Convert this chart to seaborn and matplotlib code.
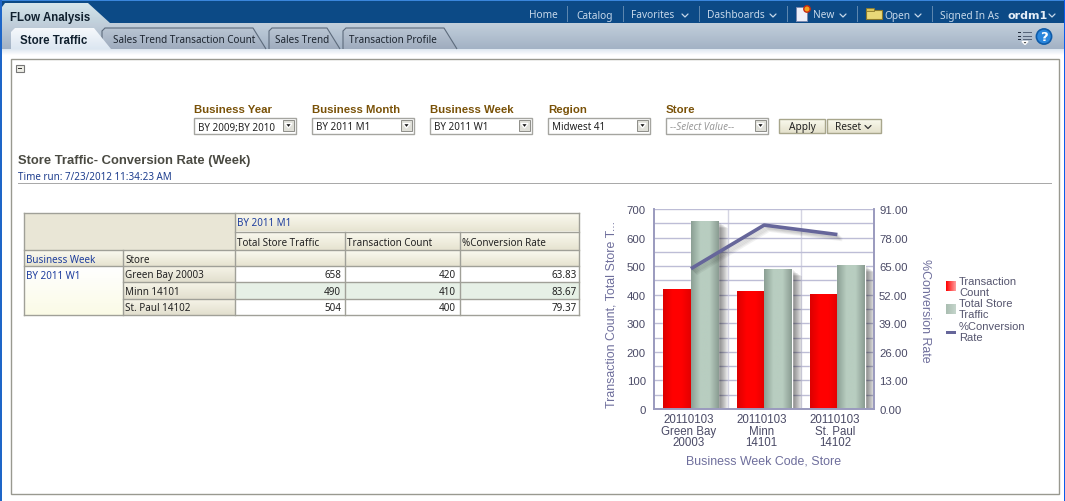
import numpy as np
import pandas as pd
import matplotlib
matplotlib.use("Agg")
import matplotlib.pyplot as plt
import matplotlib.patheffects as pe
from matplotlib.colors import LinearSegmentedColormap as LSC
from matplotlib.patches import Rectangle, Polygon, Circle
from matplotlib.transforms import ScaledTranslation
import seaborn as sns

# ---------- data ----------
weeks = ["20110103", "20110103", "20110103"]
stores = ["Green Bay", "Minn", "St. Paul"]
store_codes = ["20003", "14101", "14102"]
table_stores = ["Green Bay 20003", "Minn 14101", "St. Paul 14102"]
traffic = [658, 490, 504]
transactions = [420, 410, 400]
conversion = [63.83, 83.67, 79.37]
left_ticks = [0, 100, 200, 300, 400, 500, 600, 700]
left_minor = [50, 150, 250, 350, 450, 550, 650]
right_ticks = [0, 13, 26, 39, 52, 65, 78, 91]
nav_items = ["Home", "Catalog", "Favorites", "Dashboards", "New", "Open", "Signed In As"]
tabs = ["Store Traffic", "Sales Trend Transaction Count", "Sales Trend", "Transaction Profile"]
filter_labels = ["Business Year", "Business Month", "Business Week", "Region", "Store"]
filter_values = ["BY 2009;BY 2010", "BY 2011 M1", "BY 2011 W1", "Midwest 41", "--Select Value--"]
table_cols = ["Total Store Traffic", "Transaction Count", "%Conversion Rate"]

sns.set_theme(style="white")
UI = "Noto Sans"
BOLD = "Liberation Sans"
CH = "Liberation Sans"
plt.rcParams["font.family"] = [UI, "DejaVu Sans"]

W, H = 1065, 502
fig = plt.figure(figsize=(W / 100, H / 100), dpi=100, facecolor="white")
ui = fig.add_axes([0, 0, 1, 1], zorder=0)
ui.set_axis_off()


def vgrad(x0, y0, x1, y1, top, bottom, clip=None, z=3):
    cm = LSC.from_list("g", [top, bottom])
    im = ui.imshow(np.linspace(0, 1, 64)[:, None], cmap=cm, extent=(x0, x1, y1, y0),
                   aspect="auto", zorder=z, interpolation="bilinear")
    if clip is not None:
        poly = Polygon(clip, closed=True, transform=ui.transData)
        im.set_clip_path(poly)
    return im


def hgrad(x0, y0, x1, y1, colors, z=3):
    cm = LSC.from_list("g", colors)
    return ui.imshow(np.linspace(0, 1, 64)[None, :], cmap=cm, extent=(x0, x1, y1, y0),
                     aspect="auto", zorder=z, interpolation="bilinear")


def rect(x0, y0, x1, y1, fc="none", ec="none", lw=1, z=2):
    ui.add_patch(Rectangle((x0, y0), x1 - x0, y1 - y0, fc=fc, ec=ec, lw=lw, zorder=z))


def txt(x, y, s, size=7.2, color="#222222", weight="normal", ha="left", style="normal", z=6, family=None):
    if weight == "bold" and family is None:
        family = BOLD
    ui.text(x, y + 1, s, fontsize=size, color=color, weight=weight, ha=ha, va="center", style=style,
            zorder=z, family=family or UI)


def chevron(x, y, color="#C6D8EA", z=6):
    ui.plot([x - 3, x, x + 3], [y - 1.5, y + 1.5, y - 1.5], color=color, lw=0.9, zorder=z)


# ---------- top chrome ----------
rect(0, 0, W, 24, fc="#0C4A86", z=1)
rect(0, 0, W, 1.5, fc="#3A86DC", z=2)
vgrad(0, 24, W, 50, "#C2CFDB", "#A3B2C5", z=1)
vgrad(0, 50, W, 56, "#DDE6F0", "#FFFFFF", z=1)
rect(0, 0, 1.5, H, fc="#1E66C8", z=3)
rect(1063.5, 0, W, H, fc="#0B5BEA", z=3)

flow = [(2, 24), (2, 8), (5, 4), (88, 4), (110, 24)]
vgrad(2, 4, 110, 24, "#D6E6EC", "#C0D0DB", clip=flow, z=2)
txt(10, 16.5, "FLow Analysis", size=8.3, weight="bold", color="#10202E")

for (x0, x1), label, tx in zip([(101, 267), (268, 341), (342, 458)], tabs[1:], [113, 275, 349]):
    shape = [(x0 + 1, 50), (x0 + 1, 32), (x0 + 4, 29), (x1 - 14, 29), (x1 - 1, 50)]
    vgrad(x0, 29, x1, 50, "#B9C5D3", "#9FACBE", clip=shape, z=2)
    ui.add_patch(Polygon(shape, closed=False, fc="none", ec="#5D6B7C", lw=0.8, zorder=3))
    txt(tx, 39.5, label, size=7.15, color="#1D2530")
st = [(11, 50), (11, 33), (15, 29), (94, 29), (111, 50)]
vgrad(11, 29, 111, 50, "#F6F9FC", "#DCE6F1", clip=st, z=4)
txt(20, 39.5, tabs[0], size=8.3, weight="bold", color="#10202E")

nav_x = [529, 576, 631, 707, 813, 884, 940]
for x, label in zip(nav_x, nav_items):
    txt(x, 15, label, size=7.3, color="#C6D8EA")
txt(1008, 15, "ordm1", size=8.0, weight="bold", color="#E4EEF8", family="DejaVu Sans")
for x in [685, 773, 843, 918, 1052]:
    chevron(x, 16.5)
for x in [567, 623, 699, 787, 857, 932]:
    rect(x, 7, x + 0.8, 23, fc="#5C86AE", z=3)
# new-page and folder icons
rect(796, 8, 807, 22, fc="#EDEFF8", ec="#7B8AB0", lw=0.7, z=3)
ui.add_patch(Circle((807, 10), 3.2, fc="#F3A21E", ec="#C82A10", lw=1, zorder=4))
rect(866, 11, 882, 20, fc="#E9D878", ec="#8C7A2C", lw=0.8, z=3)
rect(866, 9, 874, 12, fc="#D8C45C", ec="#8C7A2C", lw=0.6, z=3)
# toolbar icons
for y in [33, 36.5, 40]:
    rect(1018, y, 1021, y + 1, fc="#25303F", z=3)
    rect(1023, y, 1032, y + 1, fc="#56657A", z=3)
ui.add_patch(Polygon([(1022, 42.5), (1028, 42.5), (1025, 45.5)], fc="#111111", zorder=3))
ui.add_patch(Circle((1044, 37.5), 7.6, fc="#2A86DC", ec="#0E5BA8", lw=1.2, zorder=3))
txt(1044, 36.5, "?", size=9.5, weight="bold", color="white", ha="center", family="DejaVu Sans")

# ---------- content panel ----------
rect(11, 59.5, 1058.5, 495, fc="white", ec="#999990", lw=1, z=2)
rect(15.5, 65.5, 23.5, 73, fc="#EDEDE6", ec="#777777", lw=0.8, z=3)
rect(17.5, 69, 21.5, 70, fc="#333333", z=4)

# ---------- filters ----------
fx = [194, 312, 430, 548, 666]
for x, label, value in zip(fx, filter_labels, filter_values):
    txt(x, 109, label, weight="bold", size=8.2, color="#7A5208")
    rect(x, 119, x + 102, 135, fc="white", ec="#A5A5A0", z=3)
    placeholder = value.startswith("--")
    txt(x + 4, 127, value, size=7.1, color="#999999" if placeholder else "#222222",
        style="italic" if placeholder else "normal")
    rect(x + 89, 121, x + 100, 132, fc="#DFDFD8", ec="#8E8E88", lw=0.7, z=4)
    ui.add_patch(Polygon([(x + 91, 124.5), (x + 98, 124.5), (x + 94.5, 129)], fc="#111111", zorder=5))
for x0, x1, label, tx in [(779, 825, "Apply", 802), (827, 881, "Reset", 848)]:
    vgrad(x0, 120, x1, 134, "#FAFAEE", "#E4E1CC")
    rect(x0, 120, x1, 134, ec="#A8A68C", z=4)
    txt(tx, 126.5, label, ha="center", size=7.3)
chevron(868, 128, color="#333333")

txt(18, 160.5, "Store Traffic- Conversion Rate (Week)", size=9.4, weight="bold", color="#4A4A42")
txt(18, 176.5, "Time run: 7/23/2012 11:34:23 AM", size=7.1, color="#1E3E8E")
rect(18, 184, 1052, 184.8, fc="#A9A9A9", z=3)

# ---------- pivot table ----------
cx = [24, 123, 235, 345, 460, 579]
ry = [214, 233, 251, 267, 283, 300, 316]
BORDER = "#A0A098"
LINK = "#1E3E9E"
rect(cx[0], ry[0], cx[2], ry[2], fc="#E9E6D6", z=2)
vgrad(cx[2], ry[0], cx[5], ry[1], "#FBFAF0", "#E6E3D0")
for i in range(3):
    vgrad(cx[2 + i], ry[1], cx[3 + i], ry[2], "#FBFAF0", "#E6E3D0")
    vgrad(cx[2 + i], ry[2], cx[3 + i], ry[3], "#FBFAF0", "#E6E3D0")
vgrad(cx[0], ry[2], cx[1], ry[3], "#FBFAF0", "#E6E3D0")
vgrad(cx[1], ry[2], cx[2], ry[3], "#FBFAF0", "#E6E3D0")
vgrad(cx[0], ry[3], cx[1], ry[6], "#FFFFFF", "#FBFBE6")
for r in range(3):
    vgrad(cx[1], ry[3 + r], cx[2], ry[4 + r], "#F6F4E8", "#E2DFCE")
    rect(cx[2], ry[3 + r], cx[5], ry[4 + r], fc="#E6F0E6" if r == 1 else "white", z=3)

for x0, y0, x1, y1 in [
    (cx[0], ry[0], cx[5], ry[0]), (cx[2], ry[1], cx[5], ry[1]), (cx[0], ry[2], cx[5], ry[2]),
    (cx[0], ry[3], cx[5], ry[3]), (cx[1], ry[4], cx[5], ry[4]), (cx[1], ry[5], cx[5], ry[5]),
    (cx[0], ry[6], cx[5], ry[6]), (cx[0], ry[0], cx[0], ry[6]), (cx[1], ry[2], cx[1], ry[6]),
    (cx[2], ry[0], cx[2], ry[6]), (cx[3], ry[1], cx[3], ry[6]), (cx[4], ry[1], cx[4], ry[6]),
    (cx[5], ry[0], cx[5], ry[6]),
]:
    ui.plot([x0, x1], [y0, y1], color=BORDER, lw=1, zorder=5, solid_capstyle="projecting")

TS = 7.1
txt(cx[2] + 2, 223, "BY 2011 M1", size=TS, color=LINK)
for i, label in enumerate(table_cols):
    txt(cx[2 + i] + 2, 242.5, label, size=TS)
txt(cx[0] + 2, 259.5, "Business Week", size=TS, color=LINK)
txt(cx[1] + 2, 259.5, "Store", size=TS)
txt(cx[0] + 2, 275.5, "BY 2011 W1", size=TS, color=LINK)
for r in range(3):
    y = (ry[3 + r] + ry[4 + r]) / 2
    txt(cx[1] + 2, y, table_stores[r], size=TS)
    txt(cx[3] - 4, y, str(traffic[r]), size=TS, ha="right")
    txt(cx[4] - 4, y, str(transactions[r]), size=TS, ha="right")
    txt(cx[5] - 2, y, f"{conversion[r]:.2f}", size=TS, ha="right")

# ---------- legend ----------
hgrad(946, 282, 956, 292, ["#FF0000", "#FFA0A0"])
hgrad(946, 305, 956, 315, ["#A9BDB1", "#C6D6CC"])
rect(946, 331.5, 956, 334.5, fc="#66669A", z=3)
for y, s in [(281, "Transaction"), (292, "Count"), (303.5, "Total Store"), (314.5, "Traffic"),
             (326, "%Conversion"), (337, "Rate")]:
    txt(959, y, s, size=8.0, color="#55556E", family=CH)

ui.set_xlim(0, W)
ui.set_ylim(H, 0)

# ---------- chart ----------
AX_L, AX_R, AX_T, AX_B = 654.3, 874, 210, 410
ax = fig.add_axes([AX_L / W, 1 - AX_B / H, (AX_R - AX_L) / W, (AX_B - AX_T) / H], zorder=2)
ax.set_facecolor("white")
categories = [f"{w}\n{s}\n{c}" for w, s, c in zip(weeks, stores, store_codes)]
df = pd.DataFrame({
    "cat": categories * 2,
    "value": transactions + traffic,
    "series": ["Transaction Count"] * 3 + ["Total Store Traffic"] * 3,
})
sns.barplot(data=df, x="cat", y="value", hue="series", ax=ax, width=0.75, gap=0, dodge=True,
            palette={"Transaction Count": "#FF0000", "Total Store Traffic": "#B5CABD"},
            legend=False, saturation=1, errorbar=None)
ax.set_xlim(-0.5, 2.5)
ax.set_ylim(0, 700)

px = 0.72  # points per pixel
shadow = [pe.SimplePatchShadow(offset=(k * px, -k * 0.7 * px), shadow_rgbFace="#000000", alpha=0.06)
          for k in range(10, 0, -1)] + [pe.Normal()]
red = LSC.from_list("r", ["#DC0000", "#FF0000", "#FF0000", "#E40000"])
grey = LSC.from_list("s", ["#8B9F94", "#B8CDC0", "#B8CDC0", "#8A9C92"])
for i, p in enumerate(ax.patches):
    p.set_path_effects(shadow)
    x, y, w, h = p.get_x(), p.get_y(), p.get_width(), p.get_height()
    ax.imshow(np.linspace(0, 1, 64)[None, :], cmap=red if i < 3 else grey,
              extent=(x, x + w, y, y + h), aspect="auto", zorder=1.5, interpolation="bilinear")
ax.set_xlim(-0.5, 2.5)
ax.set_ylim(0, 700)

AXC = "#9A9ABE"
ax.set_axisbelow(True)
ax.set_yticks(left_ticks)
ax.set_yticks(left_minor, minor=True)
ax.grid(True, axis="y", which="both", color="#BDBDD6", lw=1)
for x in [0.5, 1.5]:
    ax.axvline(x, color="#D4D4E2", lw=1, zorder=0.5)
ax.tick_params(axis="y", which="both", length=0, labelsize=8.2, labelcolor="#4A4A66", pad=6,
               labelfontfamily=CH)
ax.tick_params(axis="x", length=0, labelsize=8.3, labelcolor="#4A4A66", pad=3, labelfontfamily=CH)
shift = ScaledTranslation(-2.5 / 100, 0, fig.dpi_scale_trans)
for lab in ax.get_xticklabels():
    lab.set_linespacing(0.95)
    lab.set_transform(lab.get_transform() + shift)
for name, spine in ax.spines.items():
    spine.set_color(AXC)
    spine.set_linewidth(1.2)
ax.spines["top"].set_visible(False)
ax.set_xlabel("")
ax.set_ylabel("")

ax2 = ax.twinx()
ax2.patch.set_visible(False)
line_shadow = [pe.SimpleLineShadow(offset=(k * px, -k * px), shadow_color="#000000", alpha=0.05)
               for k in range(5, 0, -1)] + [pe.Normal()]
sns.lineplot(x=[0, 1, 2], y=conversion, ax=ax2, color="#66669A", lw=2.6, legend=False, errorbar=None,
             path_effects=line_shadow, solid_capstyle="butt")
ax2.set_xlim(-0.5, 2.5)
ax2.set_ylim(0, 91)
ax2.set_yticks(right_ticks)
ax2.set_yticklabels([f"{v:.2f}" for v in right_ticks])
ax2.tick_params(axis="y", length=0, labelsize=8.2, labelcolor="#4A4A66", pad=3.6, labelfontfamily=CH)
ax2.grid(False)
for name, spine in ax2.spines.items():
    spine.set_color(AXC)
    spine.set_linewidth(1.2)
ax2.spines["top"].set_visible(False)
ax2.set_ylabel("")

LAB = "#6E6E9C"
fig.text(611.5 / W, 1 - 315 / H, "Transaction Count, Total Store T...", rotation=90, ha="center", va="center",
         fontsize=8.9, color=LAB, family=CH)
fig.text(925 / W, 1 - 311 / H, "%Conversion Rate", rotation=270, ha="center", va="center",
         fontsize=8.9, color=LAB, family=CH)
fig.text(763.5 / W, 1 - 462 / H, "Business Week Code, Store", ha="center", va="center",
         fontsize=8.9, color=LAB, family=CH)

fig.savefig("out.png", dpi=100)
